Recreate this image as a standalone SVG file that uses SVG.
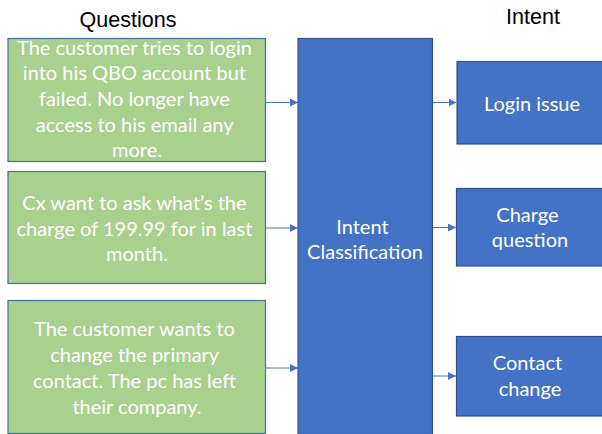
<svg xmlns="http://www.w3.org/2000/svg" width="602" height="434" viewBox="0 0 602 434">
  <style>
    .hdr { font-family: "Liberation Sans", Arial, sans-serif; font-size: 21.5px; fill: #000; text-anchor: middle; }
    .q { fill: #A9D18E; stroke: #41719C; stroke-width: 1.2; }
    .b { fill: #4472C4; stroke: #2F528F; stroke-width: 1.2; }
    .t { font-family: Lato, "Open Sans", sans-serif; font-size: 20px; fill: #fff; text-anchor: middle; }
    .c { stroke: #4472C4; stroke-width: 1; fill: none; marker-end: url(#arr); }
  </style>
  <defs>
    <marker id="arr" viewBox="0 0 10 10" refX="10" refY="5" markerWidth="8" markerHeight="8" markerUnits="userSpaceOnUse" orient="auto">
      <path d="M0,0 L10,5 L0,10 z" fill="#4472C4"/>
    </marker>
  </defs>
  <rect width="602" height="434" fill="#fff"/>

  <text class="hdr" x="128" y="27">Questions</text>
  <text class="hdr" x="533" y="24">Intent</text>

  <g id="q1">
    <rect class="q" x="8" y="38.5" width="257.5" height="123"/>
    <text class="t">
      <tspan x="137" y="54.5">The customer tries to login</tspan>
      <tspan x="137" y="80.2">into his QBO account but</tspan>
      <tspan x="137" y="105.9">failed. No longer have</tspan>
      <tspan x="137" y="131.6">access to his email any</tspan>
      <tspan x="137" y="157.3">more.</tspan>
    </text>
  </g>

  <g id="q2">
    <rect class="q" x="8" y="171.5" width="257.5" height="112"/>
    <text class="t">
      <tspan x="137" y="210">Cx want to ask what’s the</tspan>
      <tspan x="137" y="235.5">charge of 199.99 for in last</tspan>
      <tspan x="137" y="261">month.</tspan>
    </text>
  </g>

  <g id="q3">
    <rect class="q" x="8" y="300.5" width="257.5" height="133"/>
    <text class="t">
      <tspan x="137" y="335.5">The customer wants to</tspan>
      <tspan x="137" y="361.5">change the primary</tspan>
      <tspan x="137" y="387.5">contact. The pc has left</tspan>
      <tspan x="137" y="413.5">their company.</tspan>
    </text>
  </g>

  <g id="classifier">
    <rect class="b" x="298" y="38.5" width="134.5" height="396"/>
    <text class="t">
      <tspan x="365" y="233.5">Intent</tspan>
      <tspan x="365" y="259.3">Classification</tspan>
    </text>
  </g>

  <g id="login">
    <rect class="b" x="457" y="61.5" width="150" height="82.5"/>
    <text class="t" x="532" y="110.7">Login issue</text>
  </g>

  <g id="charge">
    <rect class="b" x="456.5" y="188.5" width="150" height="77.5"/>
    <text class="t">
      <tspan x="530" y="221.7">Charge</tspan>
      <tspan x="530" y="247.3">question</tspan>
    </text>
  </g>

  <g id="contact">
    <rect class="b" x="456.5" y="336.5" width="150" height="79.5"/>
    <text class="t">
      <tspan x="530" y="370">Contact</tspan>
      <tspan x="530" y="395.5">change</tspan>
    </text>
  </g>

  <g id="connectors">
    <line class="c" x1="266" y1="102.5" x2="298" y2="102.5"/>
    <line class="c" x1="266" y1="228" x2="298" y2="228"/>
    <line class="c" x1="266" y1="368" x2="298" y2="368"/>
    <line class="c" x1="433" y1="102.5" x2="456.5" y2="102.5"/>
    <line class="c" x1="433" y1="227.5" x2="456" y2="227.5"/>
    <line class="c" x1="433" y1="376" x2="456" y2="376"/>
  </g>
</svg>
